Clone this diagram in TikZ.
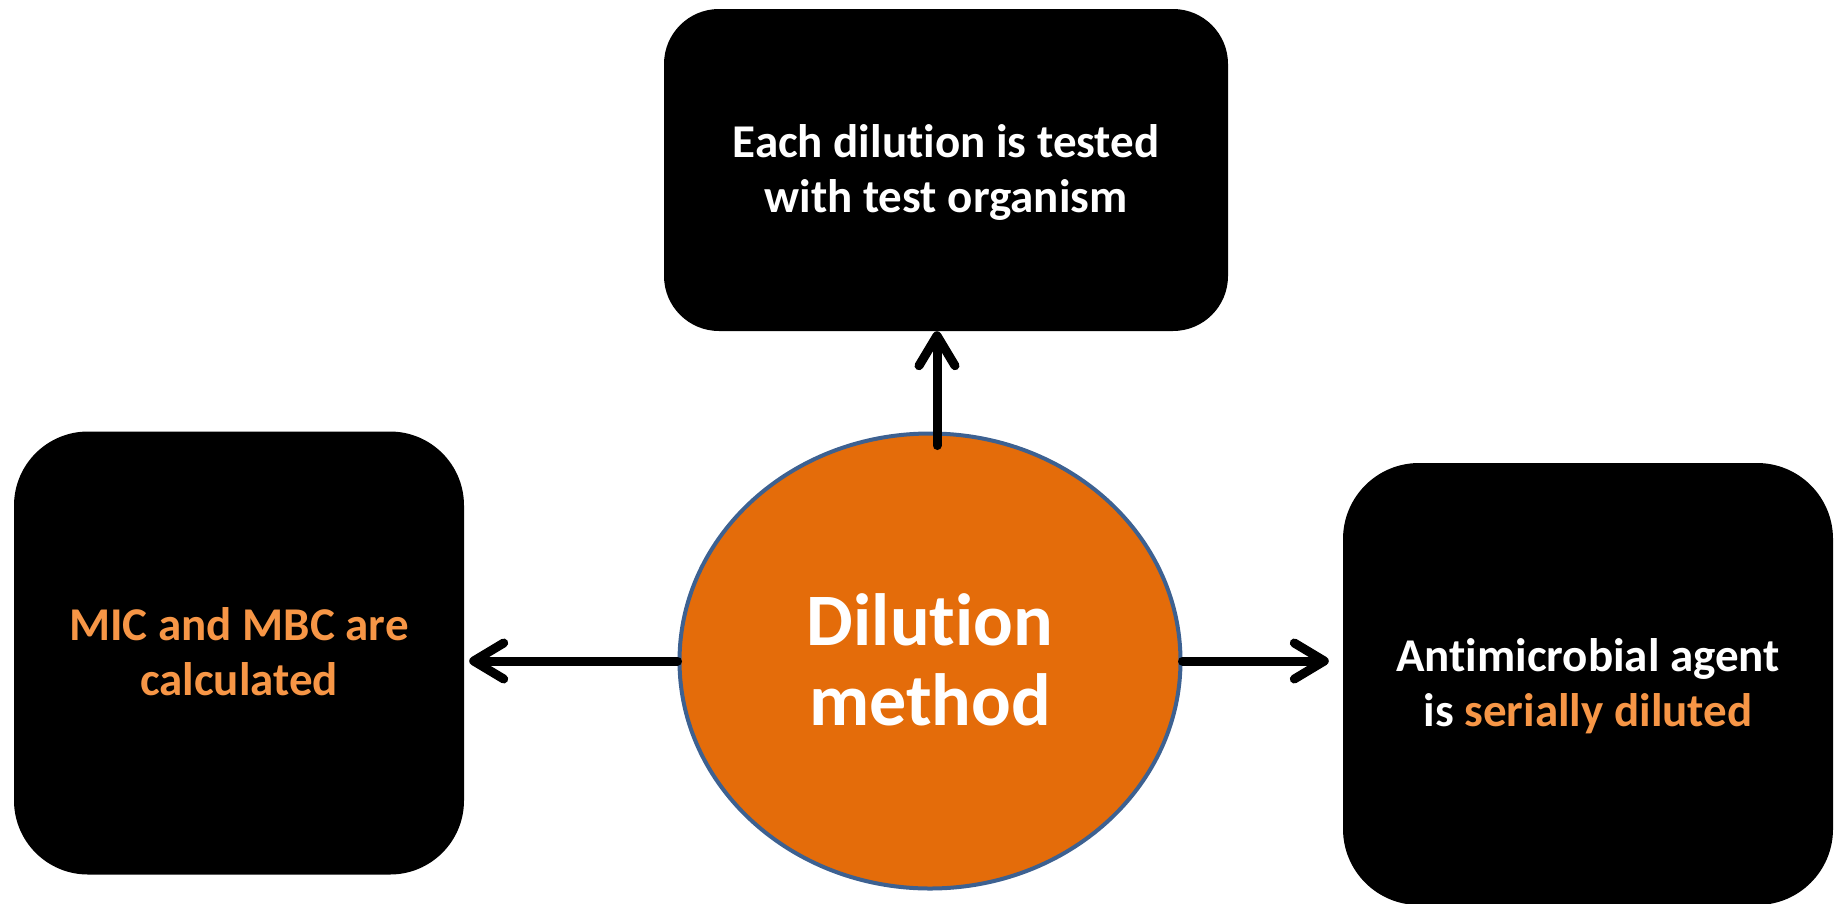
\documentclass[tikz,border=0pt]{standalone}
\usepackage{fontspec}
\setmainfont{Carlito}[Ligatures=NoCommon]
\usetikzlibrary{arrows.meta,shapes.geometric}
\definecolor{dilorange}{HTML}{E46C0A}
\definecolor{dilblue}{HTML}{3D6191}
\definecolor{txtorange}{HTML}{F79646}
\tikzset{
  stepbox/.style={rectangle, fill=black, text=white, align=center, inner sep=0pt,
    text height=85pt, text depth=0pt, font=\fontsize{47}{55}\selectfont\bfseries},
  link/.style={line width=9pt, line cap=round,
    -{Straight Barb[length=30pt,width=36pt,round]}}
}
\begin{document}
\begin{tikzpicture}[x=1pt,y=-1pt]
      \useasboundingbox (0,0) rectangle (1842,903);
      \node[stepbox, rounded corners=55pt, minimum width=564pt, minimum height=322pt]
        (tested) at (946,170) {Each dilution is tested\\with test organism};
      \node[stepbox, rounded corners=74pt, minimum width=450pt, minimum height=443pt,
        text=txtorange] (calc) at (239,653) {MIC and MBC are\\calculated};
      \node[stepbox, rounded corners=76pt, minimum width=490pt, minimum height=442pt]
        (diluted) at (1588,684) {Antimicrobial agent\\is \textcolor{txtorange}{serially diluted}};
      \node[ellipse, fill=dilorange, draw=dilblue, line width=4pt, inner sep=0pt,
        minimum width=501pt, minimum height=455pt, text=white, align=center,
        text height=128pt, text depth=0pt,
        font=\fontsize{74}{80}\selectfont\bfseries] (method) at (930,661) {Dilution\\method};
      \begin{scope}[link]
        \draw ([xshift=7pt,yshift=-14pt]method.north) to ([xshift=7pt]method.north |- tested.south);
        \draw[shorten >=5pt] (method.west) to (method.west -| calc.east);
        \draw[shorten >=14pt] (method.east) to (method.east -| diluted.west);
      \end{scope}
    \end{tikzpicture}
\end{document}
